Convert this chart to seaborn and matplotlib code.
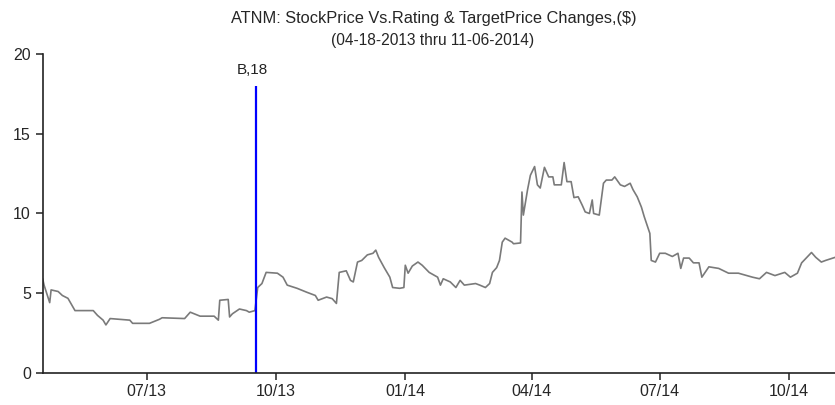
import matplotlib
matplotlib.use("Agg")
import matplotlib.pyplot as plt
import seaborn as sns
import pandas as pd

# stock price
dates = [
    "2013-04-18", "2013-04-19", "2013-04-23", "2013-04-24", "2013-04-29", "2013-05-02",
    "2013-05-06", "2013-05-11", "2013-05-24", "2013-05-27", "2013-05-31", "2013-06-02",
    "2013-06-05", "2013-06-19", "2013-06-21", "2013-07-03", "2013-07-10", "2013-07-12",
    "2013-07-28", "2013-08-01", "2013-08-08", "2013-08-18", "2013-08-21", "2013-08-22",
    "2013-08-28", "2013-08-29", "2013-08-31", "2013-09-05", "2013-09-10", "2013-09-12",
    "2013-09-16", "2013-09-18", "2013-09-21", "2013-09-24", "2013-10-02", "2013-10-06",
    "2013-10-09", "2013-10-16", "2013-10-23", "2013-10-29", "2013-10-31", "2013-11-06",
    "2013-11-10", "2013-11-13", "2013-11-15", "2013-11-20", "2013-11-23", "2013-11-25",
    "2013-11-28", "2013-12-01", "2013-12-05", "2013-12-09", "2013-12-11", "2013-12-13",
    "2013-12-17", "2013-12-21", "2013-12-23", "2013-12-28", "2013-12-31", "2014-01-01",
    "2014-01-03", "2014-01-06", "2014-01-10", "2014-01-13", "2014-01-18", "2014-01-24",
    "2014-01-26", "2014-01-28", "2014-02-02", "2014-02-06", "2014-02-09", "2014-02-12",
    "2014-02-20", "2014-02-23", "2014-02-27", "2014-03-02", "2014-03-04", "2014-03-07",
    "2014-03-09", "2014-03-11", "2014-03-13", "2014-03-18", "2014-03-19", "2014-03-24",
    "2014-03-25", "2014-03-26", "2014-03-29", "2014-03-31", "2014-04-03", "2014-04-05",
    "2014-04-07", "2014-04-10", "2014-04-13", "2014-04-16", "2014-04-17", "2014-04-22",
    "2014-04-24", "2014-04-26", "2014-04-29", "2014-05-01", "2014-05-04", "2014-05-07",
    "2014-05-09", "2014-05-12", "2014-05-14", "2014-05-15", "2014-05-19", "2014-05-22",
    "2014-05-24", "2014-05-28", "2014-05-30", "2014-06-03", "2014-06-06", "2014-06-10",
    "2014-06-12", "2014-06-15", "2014-06-18", "2014-06-20", "2014-06-24", "2014-06-25",
    "2014-06-28", "2014-07-01", "2014-07-05", "2014-07-10", "2014-07-14", "2014-07-16",
    "2014-07-18", "2014-07-22", "2014-07-25", "2014-07-29", "2014-07-31", "2014-08-05",
    "2014-08-12", "2014-08-19", "2014-08-26", "2014-09-05", "2014-09-10", "2014-09-15",
    "2014-09-21", "2014-09-28", "2014-10-02", "2014-10-07", "2014-10-10", "2014-10-17",
    "2014-10-20", "2014-10-24", "2014-10-27", "2014-11-03", "2014-11-06",
]
prices = [
    5.9, 5.5, 4.4, 5.2, 5.1, 4.85,
    4.67, 3.9, 3.9, 3.6, 3.3, 3.0,
    3.4, 3.3, 3.1, 3.1, 3.35, 3.45,
    3.4, 3.8, 3.55, 3.55, 3.3, 4.55,
    4.6, 3.5, 3.7, 4.0, 3.9, 3.8,
    3.9, 5.35, 5.6, 6.3, 6.25, 6.0,
    5.5, 5.3, 5.05, 4.85, 4.55, 4.75,
    4.65, 4.35, 6.3, 6.4, 5.8, 5.7,
    6.95, 7.05, 7.4, 7.5, 7.7, 7.25,
    6.6, 6.0, 5.35, 5.3, 5.35, 6.75,
    6.25, 6.7, 6.95, 6.75, 6.3, 6.0,
    5.5, 5.9, 5.7, 5.35, 5.8, 5.5,
    5.6, 5.5, 5.35, 5.6, 6.3, 6.6,
    7.05, 8.2, 8.45, 8.2, 8.1, 8.15,
    11.35, 9.9, 11.5, 12.4, 12.95, 11.8,
    11.6, 12.9, 12.3, 12.3, 11.8, 11.8,
    13.2, 12.0, 12.0, 11.0, 11.05, 10.5,
    10.1, 10.0, 10.85, 10.0, 9.9, 11.9,
    12.1, 12.1, 12.3, 11.8, 11.7, 11.9,
    11.5, 11.05, 10.4, 9.8, 8.75, 7.05,
    6.95, 7.5, 7.5, 7.3, 7.5, 6.55,
    7.2, 7.2, 6.9, 6.9, 6.0, 6.65,
    6.55, 6.25, 6.25, 6.0, 5.9, 6.3,
    6.1, 6.3, 6.0, 6.25, 6.9, 7.55,
    7.25, 6.95, 7.05, 7.25, 7.2,
]

rating_date = "2013-09-17"
rating_label = "B,18"
rating_target = 18

tick_dates = ["2013-07-01", "2013-10-01", "2014-01-01", "2014-04-01", "2014-07-01", "2014-10-01"]
tick_labels = ["07/13", "10/13", "01/14", "04/14", "07/14", "10/14"]
y_ticks = [0, 5, 10, 15, 20]

sns.set_style("ticks")
plt.rcParams["font.family"] = ["Liberation Sans", "DejaVu Sans"]

df = pd.DataFrame({"date": pd.to_datetime(dates), "price": prices})

fig = plt.figure(figsize=(8.35, 4.05), dpi=100)
ax = fig.add_axes([0.0511, 0.0798, 0.9544, 0.7861])

sns.lineplot(data=df, x="date", y="price", color="#7a7a7a", linewidth=1.2, ax=ax)

r_date = pd.Timestamp(rating_date)
ax.vlines(r_date, 0, rating_target, color="#0000ff", linewidth=1.6)
ax.text(r_date - pd.Timedelta(days=3), rating_target + 0.55, rating_label,
        ha="center", va="bottom", fontsize=11, color="#222222")

ax.set_xlim(pd.Timestamp("2013-04-18"), pd.Timestamp("2014-11-06"))
ax.set_ylim(0, 20)
ax.set_xticks(pd.to_datetime(tick_dates))
ax.set_xticklabels(tick_labels)
ax.set_yticks(y_ticks)
ax.set_xlabel("")
ax.set_ylabel("")
ax.tick_params(axis="both", labelsize=11.5, length=5, width=1.1, color="#222222")
for side in ["left", "bottom"]:
    ax.spines[side].set_linewidth(1.2)
    ax.spines[side].set_color("#222222")
sns.despine(ax=ax)

fig.text(0.52, 1 - 18 / 405, "ATNM: StockPrice Vs.Rating & TargetPrice Changes,($)",
         ha="center", va="center", fontsize=11.8)
fig.text(0.518, 1 - 40 / 405, "(04-18-2013 thru 11-06-2014)",
         ha="center", va="center", fontsize=11.2)

fig.savefig("out.png", dpi=100)
